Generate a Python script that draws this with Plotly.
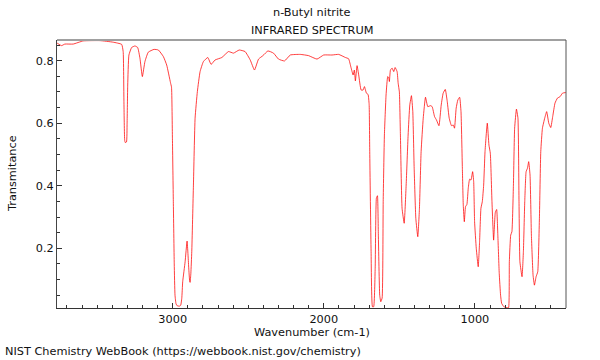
import plotly.graph_objects as go

wavenumber = [3765, 3736, 3714, 3659, 3593, 3482, 3394, 3338, 3328, 3323, 3318, 3314, 3306, 3302, 3298, 3290,
              3272, 3250, 3232, 3217, 3201, 3184, 3162, 3124, 3095, 3062, 3040, 3015, 3008, 3002, 2996, 2990,
              2985, 2978, 2970, 2955, 2947, 2940, 2934, 2918, 2905, 2894, 2888, 2885, 2880, 2874, 2863, 2852,
              2837, 2819, 2797, 2768, 2746, 2720, 2675, 2631, 2598, 2560, 2521, 2487, 2459, 2432, 2403, 2370,
              2333, 2300, 2260, 2222, 2156, 2101, 2045, 2001, 1946, 1902, 1857, 1836, 1820, 1806, 1798, 1791,
              1780, 1769, 1753, 1740, 1731, 1718, 1707, 1700, 1696, 1687, 1678, 1670, 1660, 1652, 1645, 1639,
              1630, 1623, 1614, 1607, 1599, 1588, 1577, 1570, 1566, 1559, 1548, 1537, 1528, 1515, 1508, 1500,
              1493, 1482, 1468, 1455, 1442, 1431, 1420, 1411, 1402, 1391, 1378, 1367, 1356, 1342, 1327, 1312,
              1294, 1283, 1267, 1254, 1238, 1223, 1210, 1196, 1183, 1170, 1155, 1143, 1135, 1124, 1113, 1101,
              1092, 1083, 1077, 1070, 1062, 1053, 1044, 1035, 1026, 1015, 1008, 1002, 991, 978, 969, 960,
              951, 942, 933, 918, 907, 898, 887, 876, 865, 856, 848, 839, 830, 823, 808, 785,
              777, 772, 763, 755, 745, 737, 725, 715, 708, 702, 688, 679, 670, 661, 652, 644,
              635, 626, 615, 606, 595, 584, 573, 564, 553, 538, 525, 511, 498, 485, 470, 454,
              436, 420, 398]
transmittance = [0.856, 0.848, 0.853, 0.853, 0.863, 0.864, 0.859, 0.852, 0.829, 0.669, 0.545, 0.538, 0.540, 0.600, 0.722, 0.818,
                 0.842, 0.847, 0.842, 0.808, 0.749, 0.797, 0.827, 0.836, 0.834, 0.813, 0.786, 0.730, 0.715, 0.550, 0.349, 0.150,
                 0.050, 0.022, 0.016, 0.015, 0.018, 0.040, 0.093, 0.157, 0.223, 0.137, 0.095, 0.091, 0.120, 0.189, 0.402, 0.616,
                 0.701, 0.765, 0.797, 0.810, 0.788, 0.802, 0.810, 0.829, 0.824, 0.834, 0.829, 0.802, 0.770, 0.805, 0.816, 0.831,
                 0.824, 0.805, 0.799, 0.818, 0.820, 0.816, 0.805, 0.818, 0.818, 0.820, 0.810, 0.806, 0.778, 0.754, 0.770, 0.735,
                 0.784, 0.754, 0.706, 0.706, 0.717, 0.696, 0.692, 0.660, 0.509, 0.189, 0.013, 0.013, 0.136, 0.360, 0.368, 0.242,
                 0.050, 0.029, 0.041, 0.349, 0.562, 0.690, 0.749, 0.745, 0.733, 0.770, 0.776, 0.765, 0.778, 0.765, 0.728, 0.700,
                 0.562, 0.328, 0.280, 0.402, 0.562, 0.658, 0.688, 0.637, 0.456, 0.296, 0.237, 0.328, 0.509, 0.616, 0.683, 0.653,
                 0.656, 0.653, 0.621, 0.610, 0.592, 0.658, 0.696, 0.708, 0.669, 0.616, 0.592, 0.594, 0.584, 0.648, 0.674, 0.683,
                 0.637, 0.456, 0.338, 0.285, 0.333, 0.340, 0.392, 0.421, 0.418, 0.445, 0.413, 0.285, 0.200, 0.141, 0.221, 0.328,
                 0.349, 0.402, 0.509, 0.600, 0.530, 0.504, 0.349, 0.226, 0.314, 0.324, 0.240, 0.120, 0.050, 0.024, 0.013, 0.010,
                 0.010, 0.157, 0.242, 0.253, 0.402, 0.584, 0.645, 0.616, 0.349, 0.157, 0.109, 0.189, 0.349, 0.445, 0.456, 0.477,
                 0.434, 0.242, 0.114, 0.082, 0.109, 0.125, 0.296, 0.509, 0.584, 0.616, 0.637, 0.600, 0.586, 0.621, 0.664, 0.680,
                 0.685, 0.696, 0.698]

title_lines = ["n-Butyl nitrite", "INFRARED SPECTRUM"]
x_label = "Wavenumber (cm-1)"
y_label = "Transmitance"
footer = "NIST Chemistry WebBook (https://webbook.nist.gov/chemistry)"
x_ticks = [3000, 2000, 1000]
y_ticks = [0.2, 0.4, 0.6, 0.8]

FONT = "DejaVu Sans"
TXT = dict(family=FONT, size=11.3, color="#111")

fig = go.Figure()
fig.add_trace(go.Scatter(
    x=wavenumber, y=transmittance, mode="lines",
    line=dict(color="rgba(255,0,0,0.75)", width=1, shape="spline", smoothing=0.4),
    hoverinfo="skip", showlegend=False,
))

fig.update_layout(
    width=600, height=360,
    margin=dict(l=57, r=34, t=40, b=52, autoexpand=False),
    paper_bgcolor="white", plot_bgcolor="white",
    font=TXT,
    xaxis=dict(
        range=[3766, 397], tickvals=x_ticks, ticks="inside", ticklen=5, tickcolor="#333",
        showline=True, linecolor="#333", linewidth=1, showgrid=False, zeroline=False,
        minor=dict(dtick=100, ticks="inside", ticklen=3, tickcolor="#333", showgrid=False),
        automargin=False, tickfont=TXT,
    ),
    yaxis=dict(
        range=[0.009, 0.866], tickvals=y_ticks, ticks="inside", ticklen=5, tickcolor="#333",
        showline=True, linecolor="#444", linewidth=1, showgrid=False, zeroline=False,
        minor=dict(dtick=0.05, tick0=0, ticks="inside", ticklen=3, tickcolor="#333", showgrid=False),
        automargin=False, tickfont=TXT,
    ),
    shapes=[
        dict(type="line", xref="paper", yref="paper", x0=0, x1=1, y0=1, y1=1,
             line=dict(color="#a0a0a0", width=2)),
        dict(type="line", xref="paper", yref="paper", x0=1, x1=1, y0=0, y1=1,
             line=dict(color="#555", width=1)),
    ],
    annotations=[
        dict(text=title_lines[0], xref="paper", yref="paper", x=0.5, y=1.104, xanchor="center", yanchor="middle",
             showarrow=False, font=TXT),
        dict(text=title_lines[1], xref="paper", yref="paper", x=0.5, y=1.037, xanchor="center", yanchor="middle",
             showarrow=False, font=TXT),
        dict(text=x_label, xref="paper", yref="paper", x=0.5, y=-0.0896, xanchor="center", yanchor="middle",
             showarrow=False, font=TXT),
        dict(text=y_label, xref="paper", yref="paper", x=-0.0884, y=0.5, xanchor="center", yanchor="middle",
             textangle=-90, showarrow=False, font=TXT),
        dict(text=footer, xref="paper", yref="paper", x=-0.106, y=-0.164, xanchor="left", yanchor="middle",
             showarrow=False, font=TXT),
    ],
)

fig.write_html("out.html", config={"displayModeBar": False},
               post_script="document.body.style.margin='0';")
